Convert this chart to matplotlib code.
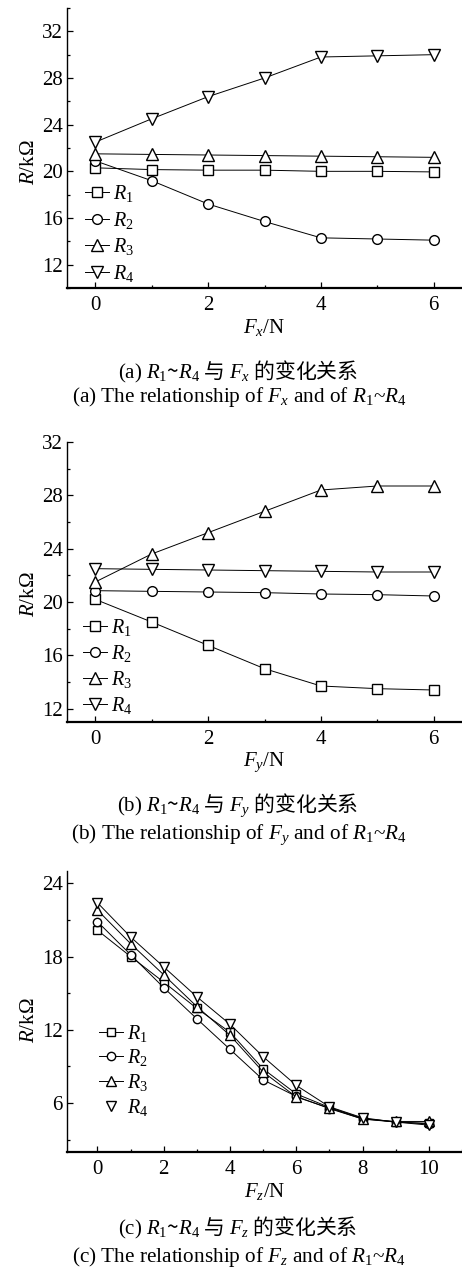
import matplotlib
matplotlib.use("Agg")
import matplotlib.pyplot as plt
from matplotlib.lines import Line2D
from matplotlib.ticker import MultipleLocator

plt.rcParams['font.family'] = ['Liberation Serif', 'Noto Sans CJK SC']
plt.rcParams['mathtext.fontset'] = 'custom'
plt.rcParams['mathtext.rm'] = 'Liberation Serif'
plt.rcParams['mathtext.it'] = 'Liberation Serif:italic'

# (a) R vs Fx
fx = [0, 1, 2, 3, 4, 5, 6]
a_r1 = [20.3, 20.15, 20.1, 20.1, 20.0, 20.0, 19.95]
a_r2 = [20.9, 19.2, 17.2, 15.7, 14.3, 14.2, 14.1]
a_r3 = [21.5, 21.45, 21.4, 21.35, 21.3, 21.25, 21.2]
a_r4 = [22.5, 24.5, 26.4, 28.0, 29.8, 29.9, 30.0]

# (b) R vs Fy
fy = [0, 1, 2, 3, 4, 5, 6]
b_r1 = [20.2, 18.5, 16.75, 15.0, 13.7, 13.5, 13.4]
b_r2 = [20.85, 20.8, 20.75, 20.7, 20.6, 20.55, 20.45]
b_r3 = [21.5, 23.6, 25.2, 26.8, 28.4, 28.7, 28.7]
b_r4 = [22.5, 22.45, 22.4, 22.35, 22.3, 22.25, 22.25]

# (c) R vs Fz
fz = [0, 1, 2, 3, 4, 5, 6, 7, 8, 9, 10]
c_r1 = [20.15, 18.0, 15.9, 13.75, 11.8, 8.8, 6.75, 5.65, 4.75, 4.45, 4.35]
c_r2 = [20.85, 18.15, 15.45, 12.9, 10.4, 7.9, 6.55, 5.55, 4.7, 4.45, 4.3]
c_r3 = [21.8, 19.05, 16.5, 13.9, 11.55, 8.55, 6.5, 5.6, 4.7, 4.5, 4.5]
c_r4 = [22.4, 19.6, 17.15, 14.7, 12.45, 9.8, 7.45, 5.7, 4.8, 4.45, 4.2]

labels = ['$R_1$', '$R_2$', '$R_3$', '$R_4$']
markers = ['s', 'o', '^', 'v']

W, H = 462, 1269
fig = plt.figure(figsize=(W / 100, H / 100), dpi=100)


def px_axes(left, top, right, bottom):
    return fig.add_axes([left / W, 1 - bottom / H, (right - left) / W, (bottom - top) / H])


def style(ax, xlim, ylim, xmaj, ymaj, ymin):
    ax.set_xlim(*xlim)
    ax.set_ylim(*ylim)
    for s in ['top', 'right']:
        ax.spines[s].set_visible(False)
    ax.spines['left'].set_linewidth(1.0)
    ax.spines['bottom'].set_linewidth(1.6)
    ax.xaxis.set_major_locator(MultipleLocator(xmaj))
    ax.xaxis.set_minor_locator(MultipleLocator(xmaj / 2))
    ax.yaxis.set_major_locator(MultipleLocator(ymaj))
    ax.yaxis.set_minor_locator(MultipleLocator(ymin))
    ax.tick_params(which='both', direction='in', width=0.9, labelsize=15)
    ax.tick_params(which='major', length=4)
    ax.tick_params(which='minor', length=2.5)
    ax.tick_params(axis='y', pad=3)
    ax.tick_params(axis='x', pad=6)


def draw(ax, x, series, ms_sq, ms_tri):
    for y, m in zip(series, markers):
        ms = ms_tri if m in '^v' else ms_sq
        ax.plot(x, y, color='black', lw=0.7, marker=m, ms=ms,
                mfc='white', mec='black', mew=1.0)


leg_kw = dict(loc='upper left', frameon=False, fontsize=14.5, handlelength=1.2,
              handletextpad=0.2, borderaxespad=0, borderpad=0)

# panel a
ax1 = px_axes(67, 8, 462, 288)
style(ax1, (-0.5, 6.5), (10, 34), 2, 4, 2)
draw(ax1, fx, [a_r1, a_r2, a_r3, a_r4], 7, 8.5)
ax1.legend(labels, bbox_to_anchor=(0.046, 0.375), labelspacing=0.28, **leg_kw)
ax1.set_xlabel('$F_x$/N', fontsize=15, labelpad=1)
ax1.set_ylabel('$R$/k\u03a9', fontsize=15)
ax1.yaxis.set_label_coords(-0.072, 0.45)

# panel b
ax2 = px_axes(67, 442, 462, 722)
style(ax2, (-0.5, 6.5), (11, 32), 2, 4, 2)
draw(ax2, fy, [b_r1, b_r2, b_r3, b_r4], 7, 8.5)
ax2.legend(labels, bbox_to_anchor=(0.04, 0.375), labelspacing=0.25, **leg_kw)
ax2.set_xlabel('$F_y$/N', fontsize=15, labelpad=1)
ax2.set_ylabel('$R$/k\u03a9', fontsize=15)
ax2.yaxis.set_label_coords(-0.072, 0.455)

# panel c
ax3 = px_axes(67, 871, 462, 1152)
style(ax3, (-0.92, 11), (2, 25), 2, 6, 3)
draw(ax3, fz, [c_r1, c_r2, c_r3, c_r4], 6, 7.5)
handles = []
for i, m in enumerate(markers):
    ms = 7.5 if m in '^v' else 6
    handles.append(Line2D([], [], color='black', lw=0.7 if i < 3 else 0, marker=m, ms=ms,
                          mfc='white', mec='black', mew=1.0))
ax3.legend(handles, labels, bbox_to_anchor=(0.08, 0.46), labelspacing=0.18, **leg_kw)
ax3.set_xlabel('$F_z$/N', fontsize=15, labelpad=1)
ax3.set_ylabel('$R$/k\u03a9', fontsize=15)
ax3.yaxis.set_label_coords(-0.072, 0.47)

# captions
cn = {'family': ['Noto Sans CJK SC'], 'fontsize': 15}
en = {'family': ['Liberation Serif'], 'fontsize': 15.3}
caps = [
    (372, r'$\mathrm{(a)}\ R_1$~$R_4$ 与 $F_x$ 的变化关系', 397,
     r'(a) The relationship of $F_x$ and of $R_1$~$R_4$'),
    (805, r'$\mathrm{(b)}\ R_1$~$R_4$ 与 $F_y$ 的变化关系', 835,
     r'(b) The relationship of $F_y$ and of $R_1$~$R_4$'),
    (1228, r'$\mathrm{(c)}\ R_1$~$R_4$ 与 $F_z$ 的变化关系', 1257,
     r'(c) The relationship of $F_z$ and of $R_1$~$R_4$'),
]
for ycn, tcn, yen, ten in caps:
    fig.text(238 / W, 1 - ycn / H, tcn, ha='center', va='center', **cn)
    fig.text(239 / W, 1 - yen / H, ten, ha='center', va='center', **en)

fig.savefig('out.png', dpi=100)
